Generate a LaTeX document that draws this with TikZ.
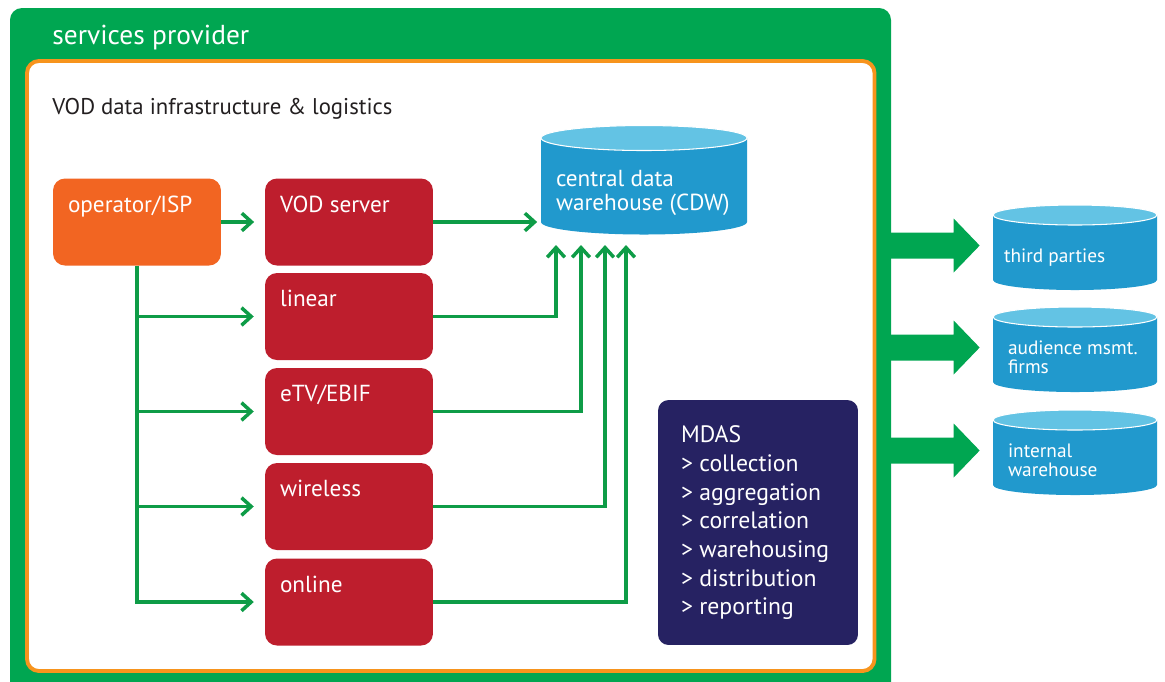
\documentclass[tikz,border=0pt]{standalone}
\usepackage{fontspec}
\setmainfont{PT Sans}
\usetikzlibrary{arrows.meta,calc,fit}

\definecolor{provgreen}{HTML}{00A651}
\definecolor{flowgreen}{HTML}{0E9C47}
\definecolor{infraorange}{HTML}{F7941D}
\definecolor{ispOrange}{HTML}{F26522}
\definecolor{vodred}{HTML}{BE1E2D}
\definecolor{mdasblue}{HTML}{262262}
\definecolor{cylbody}{HTML}{2199CD}
\definecolor{cyltop}{HTML}{63C3E4}
\definecolor{inktext}{HTML}{231F20}

% cylindre de donnees : nom, gauche, droite, y haut, y bas, demi-hauteur
\newcommand{\DataCyl}[6]{%
  \fill[cylbody] (#2,#4) -- (#2,#5) arc[start angle=180,end angle=360,x radius={(#3-#2)/2},y radius=#6] -- (#3,#4) -- cycle;
  \filldraw[fill=cyltop,draw=white,line width=0.6pt] ({(#2+#3)/2},#4) ellipse[x radius={(#3-#2)/2},y radius=#6];
  \node[fit={(#2,#4+#6) (#3,#5-#6)},inner sep=0pt] (#1) {};
}

\begin{document}
\begin{tikzpicture}[x=0.02cm,y=0.02cm,
  flow/.style={draw=flowgreen,line width=2pt,-{Straight Barb[length=5.5pt,width=10pt,line width=2pt]}},
  feedbox/.style={fill=vodred,rounded corners=6.8pt,minimum width=3.36cm,minimum height=1.74cm,inner sep=0pt},
  boxtext/.style={anchor=base west,text=white,inner sep=0pt,font=\fontsize{13.2}{15}\selectfont},
  cyltext/.style={anchor=base west,text=white,inner sep=0pt,font=\fontsize{11}{13}\selectfont},
]
\useasboundingbox (0,0) rectangle (1165,-681);

% cadres
\fill[provgreen,rounded corners=6.8pt] (10,-700) rectangle (891,-8);
\draw[infraorange,fill=white,line width=2.2pt,rounded corners=6.8pt] (27,-61) rectangle (874.5,-671);
\node[anchor=base west,text=white,inner sep=0pt,font=\fontsize{15.6}{18}\selectfont] (title) at (52,-44) {services provider};
\node[anchor=base west,text=inktext,inner sep=0pt,font=\fontsize{12.95}{15}\selectfont] (infra) at (52,-114) {VOD data infrastructure \& logistics};

% sources
\node[feedbox,fill=ispOrange] (op) at (137,-222) {};
\node[feedbox] (vod) at (349,-222) {};
\node[feedbox] (lin) at (349,-316.5) {};
\node[feedbox] (etv) at (349,-411.5) {};
\node[feedbox] (wls) at (349,-506.5) {};
\node[feedbox] (onl) at (349,-602) {};
\foreach \b/\t in {op/operator\slash ISP,vod/VOD server,lin/linear,etv/eTV\slash EBIF,wls/wireless,onl/online}
  \node[boxtext] at ($(\b.north west)+(15,-34)$) {\t};

% entrepots
\DataCyl{cdw}{541}{747}{-138}{-222}{12.5}
\node[boxtext] at ($(cdw.north west)+(15,-61.5)$) {central data};
\node[boxtext] at ($(cdw.north west)+(15,-85.5)$) {warehouse (CDW)};

\DataCyl{tp}{993}{1157}{-215}{-280}{10}
\DataCyl{am}{993}{1157}{-317}{-382}{10}
\DataCyl{iw}{993}{1157}{-420}{-485}{10}
\node[cyltext] at ($(tp.north west)+(11,-58)$) {third parties};
\node[cyltext] at ($(am.north west)+(15,-48)$) {audience msmt.};
\node[cyltext] at ($(am.north west)+(15,-67)$) {firms};
\node[cyltext] at ($(iw.north west)+(15,-48)$) {internal};
\node[cyltext] at ($(iw.north west)+(15,-67)$) {warehouse};

% MDAS
\node[fill=mdasblue,rounded corners=6pt,minimum width=4cm,minimum height=4.9cm,inner sep=0pt] (mdas) at (758,-522.5) {};
\foreach \t [count=\i from 0] in {MDAS,> collection,> aggregation,> correlation,> warehousing,> distribution,> reporting}
  \node[boxtext,font=\fontsize{13.5}{15}\selectfont] at ($(mdas.north west)+(23,-43-28.7*\i)$) {\t};

% fleches
\coordinate (in1) at (556,-245);
\coordinate (in2) at (581,-245);
\coordinate (in3) at (605,-245);
\coordinate (in4) at (626,-245);
\draw[flow,shorten >=6pt] (op.east) -- (vod.west);
\foreach \b in {lin,etv,wls,onl}
  \draw[flow,shorten >=6.2pt] (op.south) |- (\b.west);
\draw[flow,shorten >=2pt] (vod.east) -- (vod.east -| cdw.west);
\draw[flow] (lin.east) -| (in1);
\draw[flow] (etv.east) -| (in2);
\draw[flow] (wls.east) -| (in3);
\draw[flow] (onl.east) -| (in4);

% sorties
\foreach \c in {tp,am,iw}
  \fill[provgreen] ($(\c.west)+(-113,15)$) -- ++(74,0) -- ++(0,14) -- ++(26,-27) -- ++(-26,-27) -- ++(0,14) -- ++(-74,0) -- cycle;
\end{tikzpicture}
\end{document}
